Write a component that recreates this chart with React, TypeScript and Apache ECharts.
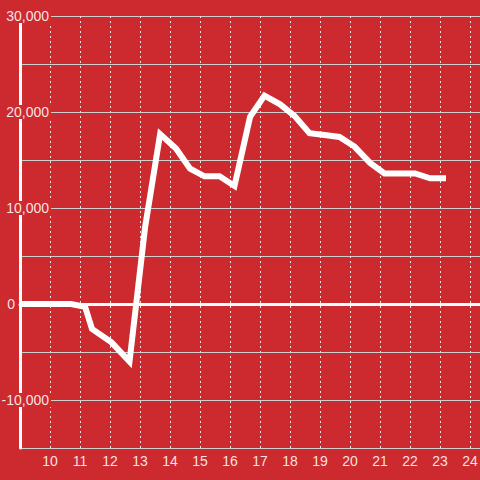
import React, { useEffect, useRef } from "react";
import * as echarts from "echarts";

const xValues = [9, 10, 10.7, 11.17, 11.4, 12.05, 12.65, 13.17, 13.67, 14.2, 14.67, 15.15, 15.65, 16.15, 16.67, 17.15, 17.67, 18.15, 18.65, 19.15, 19.65, 20.15, 20.67, 21.15, 21.67, 22.17, 22.67, 23.2];
const yValues = [0, 0, 0, -300, -2600, -4000, -6000, 8000, 17700, 16200, 14100, 13300, 13300, 12300, 19500, 21700, 20800, 19600, 17800, 17600, 17400, 16400, 14700, 13600, 13600, 13600, 13100, 13100];
const yLabelValues = [30000, 20000, 10000, 0, -10000];
const xLabelValues = [10, 11, 12, 13, 14, 15, 16, 17, 18, 19, 20, 21, 22, 23, 24];

const RED = "#cc2a2f";

export default function App() {
  const ref = useRef<HTMLDivElement>(null);
  useEffect(() => {
    const chart = echarts.init(ref.current!, null, { renderer: "svg" });
    const data = xValues.map((x, i) => [x, yValues[i]]);
    chart.setOption({
      animation: false,
      backgroundColor: RED,
      grid: { left: 20, right: 0, top: 16, bottom: 32, containLabel: false, outerBoundsMode: "none" },
      xAxis: {
        type: "value",
        min: 9,
        max: 9 + 460 / 30,
        interval: 1,
        axisLine: { show: true, onZero: true, lineStyle: { color: "#ffffff", width: 3 } },
        axisTick: { show: false },
        axisLabel: {
          margin: 6,
          fontSize: 14,
          fontFamily: "Liberation Sans, Arial, sans-serif",
          color: "rgba(255,255,255,0.88)",
          hideOverlap: false,
          formatter: (v: number) => (xLabelValues.includes(v) ? String(v) : ""),
        },
        splitLine: { show: true, lineStyle: { color: "#e6e6e6", width: 1, type: [2, 3] } },
      },
      yAxis: {
        type: "value",
        min: -15000,
        max: 30000,
        interval: 5000,
        axisLine: { show: true, lineStyle: { color: "#ffffff", width: 3 } },
        axisTick: { show: false },
        axisLabel: {
          margin: -31,
          align: "right",
          fontSize: 14,
          fontFamily: "Liberation Sans, Arial, sans-serif",
          color: "rgba(255,255,255,0.88)",
          formatter: (v: number) => {
            if (!yLabelValues.includes(v)) return "";
            if (v === 0) return "{z|0}";
            return "{a|" + v.toLocaleString("en-US") + "}";
          },
          rich: {
            a: {
              backgroundColor: RED,
              padding: [0, 2, 0, 2],
              lineHeight: 16,
              fontSize: 14,
              fontFamily: "Liberation Sans, Arial, sans-serif",
              color: "rgba(255,255,255,0.88)",
            },
            z: {
              padding: [0, 36, 0, 0],
              lineHeight: 16,
              fontSize: 14,
              fontFamily: "Liberation Sans, Arial, sans-serif",
              color: "rgba(255,255,255,0.88)",
            },
          },
        },
        splitLine: { show: true, lineStyle: { color: "#cfcfcf", width: 1 } },
      },
      series: [
        {
          type: "line",
          data,
          showSymbol: false,
          symbol: "none",
          lineStyle: { color: "#ffffff", width: 6, join: "miter" },
          z: 3,
        },
      ],
    });
    return () => chart.dispose();
  }, []);
  return (
    <div
      ref={ref}
      style={{ position: "fixed", left: 0, top: 0, width: 480, height: 480 }}
    />
  );
}
